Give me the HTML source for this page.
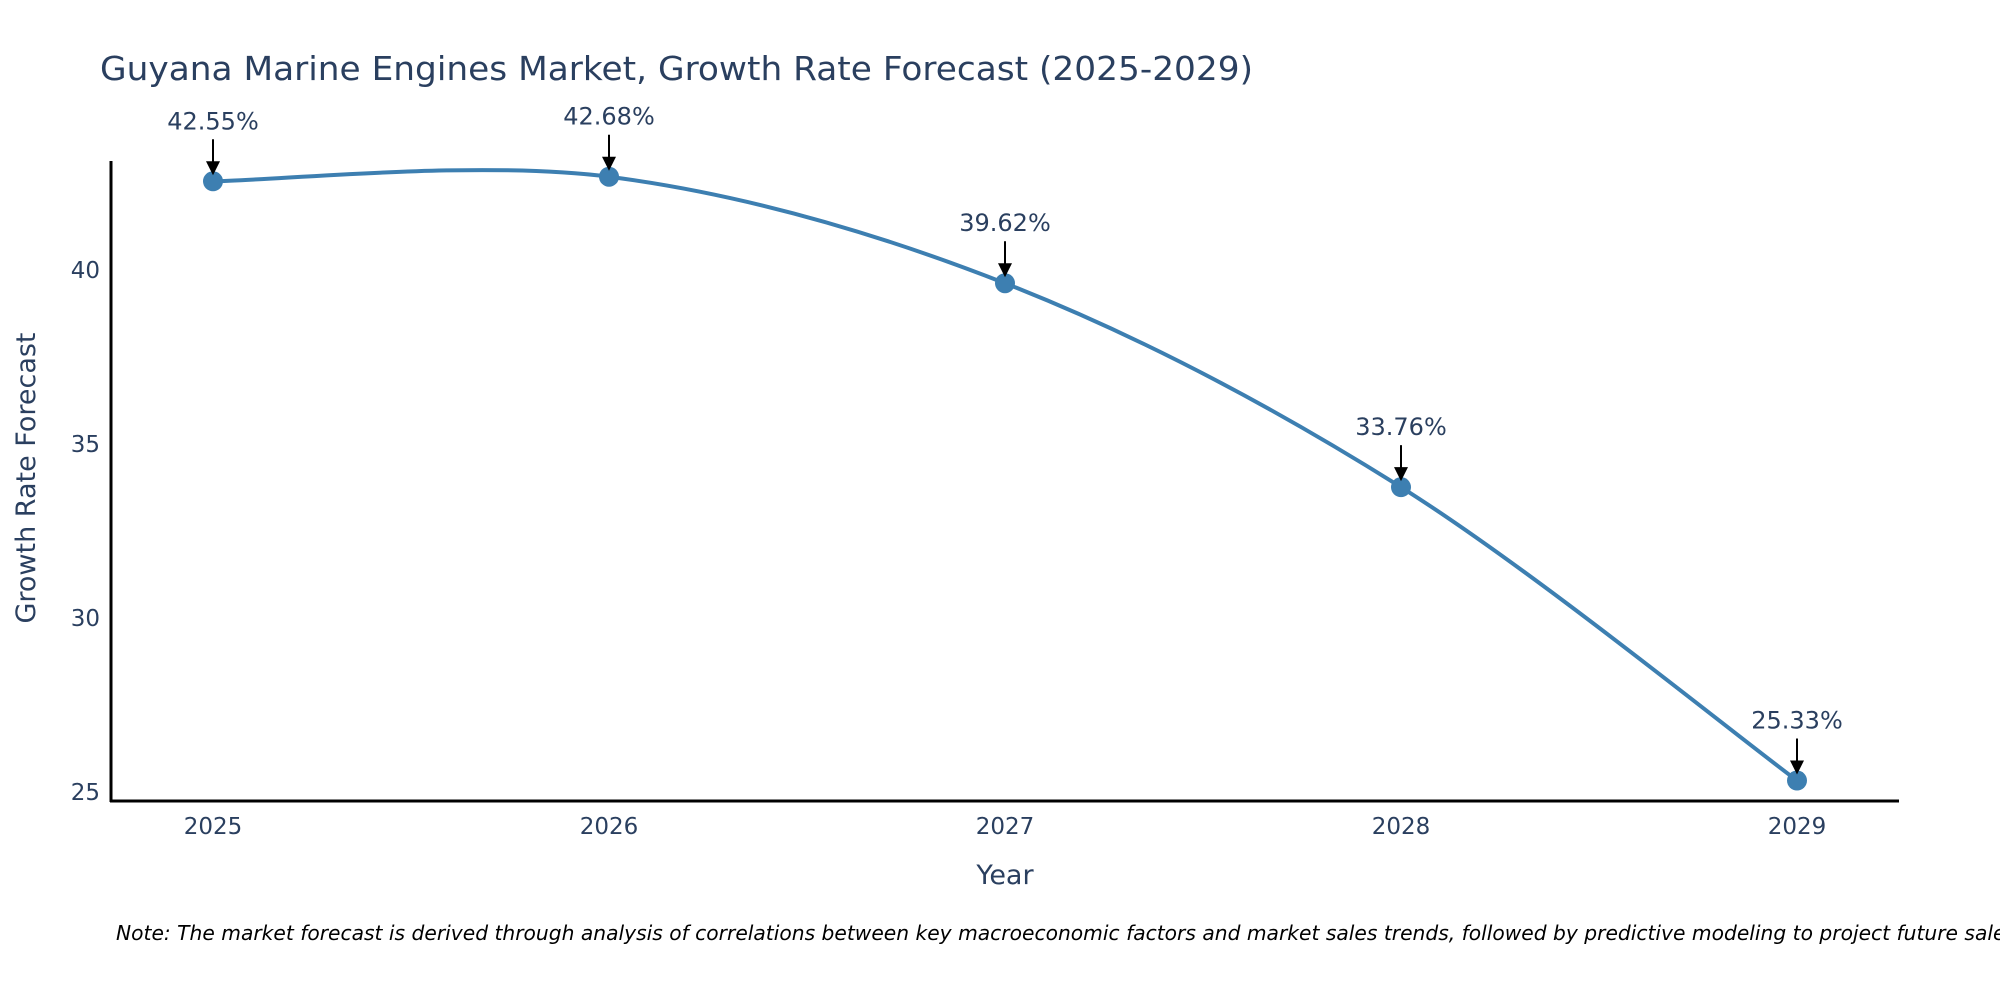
<!DOCTYPE html>
<html><head><meta charset="utf-8"><style>
body{margin:0;background:#fff;}
svg{display:block;font-family:"DejaVu Sans","Liberation Sans",sans-serif;}
</style></head><body>
<svg id="chart" width="2000" height="1000" viewBox="0 0 2000 1000">
<text x="100" y="80" font-size="33" fill="#2a3f5f" textLength="1153" lengthAdjust="spacingAndGlyphs">Guyana Marine Engines Market, Growth Rate Forecast (2025-2029)</text>
<g id="plot"></g>
<line x1="111" y1="161" x2="111" y2="802" stroke="#000" stroke-width="3"/>
<line x1="110" y1="801" x2="1899" y2="801" stroke="#000" stroke-width="3"/>
<text x="1005" y="884" font-size="27" fill="#2a3f5f" text-anchor="middle">Year</text>
<text transform="translate(35,478) rotate(-90)" font-size="27" fill="#2a3f5f" text-anchor="middle">Growth Rate Forecast</text>
<text x="116" y="940" font-size="20" font-style="italic" fill="#000" textLength="1900" lengthAdjust="spacingAndGlyphs">Note: The market forecast is derived through analysis of correlations between key macroeconomic factors and market sales trends, followed by predictive modeling to project future sales</text>
</svg>
<script>
const years = ["2025","2026","2027","2028","2029"];
const values = [42.55, 42.68, 39.62, 33.76, 25.33];
const yTicks = [25, 30, 35, 40];
const labels = ["42.55%","42.68%","39.62%","33.76%","25.33%"];
const NS="http://www.w3.org/2000/svg";
const g=document.getElementById('plot');
function xs(i){return 213+i*396;}
function ys(v){return 270+(40-v)*34.8;}
function mk(t,a){const e=document.createElementNS(NS,t);for(const k in a)e.setAttribute(k,a[k]);return e;}
yTicks.forEach(t=>{const e=mk('text',{x:100,y:ys(t)+8,'font-size':23,fill:'#2a3f5f','text-anchor':'end'});


e.textContent=t;g.appendChild(e);});
years.forEach((y,i)=>{const e=mk('text',{x:xs(i),y:834,'font-size':23,fill:'#2a3f5f','text-anchor':'middle'});


e.textContent=y;g.appendChild(e);});
const P=values.map((v,i)=>[xs(i),ys(v)]);
let d=`M${P[0][0]},${P[0][1]}`;
for(let i=0;i<P.length-1;i++){const p0=P[Math.max(i-1,0)],p1=P[i],p2=P[i+1],p3=P[Math.min(i+2,P.length-1)];
const c1=[p1[0]+(p2[0]-p0[0])/6,p1[1]+(p2[1]-p0[1])/6],c2=[p2[0]-(p3[0]-p1[0])/6,p2[1]-(p3[1]-p1[1])/6];
d+=` C${c1[0]},${c1[1]} ${c2[0]},${c2[1]} ${p2[0]},${p2[1]}`;}
const line=mk('path',{d:d,fill:'none',stroke:'#3d7fb1','stroke-width':4});


g.appendChild(line);
P.forEach((p,i)=>{const c=mk('circle',{cx:p[0],cy:p[1],r:10,fill:'#3d7fb1'});


g.appendChild(c);
const a=mk('line',{x1:p[0],y1:p[1]-42,x2:p[0],y2:p[1]-18,stroke:'#000','stroke-width':2});


g.appendChild(a);
const h=mk('polygon',{points:`${p[0]-7},${p[1]-20} ${p[0]+7},${p[1]-20} ${p[0]},${p[1]-6}`,fill:'#000'});


g.appendChild(h);
const t=mk('text',{x:p[0],y:p[1]-52,'font-size':24,fill:'#2a3f5f','text-anchor':'middle'});


t.textContent=labels[i];g.appendChild(t);});
</script>
</body></html>
